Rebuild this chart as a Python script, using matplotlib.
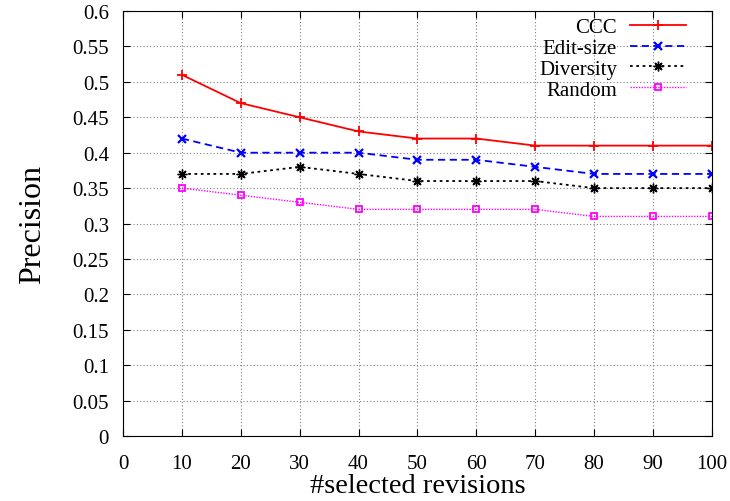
import matplotlib
matplotlib.use("Agg")
import matplotlib.pyplot as plt

plt.rcParams['font.family'] = ['Liberation Serif', 'DejaVu Serif']

# data
x = [10, 20, 30, 40, 50, 60, 70, 80, 90, 100]
ccc = [0.51, 0.47, 0.45, 0.43, 0.42, 0.42, 0.41, 0.41, 0.41, 0.41]
edit_size = [0.42, 0.40, 0.40, 0.40, 0.39, 0.39, 0.38, 0.37, 0.37, 0.37]
diversity = [0.37, 0.37, 0.38, 0.37, 0.36, 0.36, 0.36, 0.35, 0.35, 0.35]
random_sel = [0.35, 0.34, 0.33, 0.32, 0.32, 0.32, 0.32, 0.31, 0.31, 0.31]

fig = plt.figure(figsize=(7.30, 5.02), dpi=100)
ax = fig.add_axes([0.1685, 0.1295, 0.8065, 0.8465])

ax.plot(x, ccc, color='red', linestyle='-', marker='+', markersize=7, markeredgewidth=1.3,
        linewidth=1.3, label='CCC')
ax.plot(x, edit_size, color='blue', linestyle=(0, (4, 2.5)), marker='x', markersize=5.5,
        markeredgewidth=1.6, linewidth=1.3, label='Edit-size')
ax.plot(x, diversity, color='black', linestyle=(0, (1.5, 2)), marker=(8, 2, 0), markersize=7,
        markeredgewidth=1.0, linewidth=1.3, label='Diversity')
ax.plot(x, random_sel, color='magenta', linestyle=(0, (1, 1)), marker='s', markersize=5,
        markerfacecolor='none', markeredgewidth=1.3, linewidth=1.0, label='Random')

ax.set_xlim(0, 100)
ax.set_ylim(0, 0.6)
ax.set_xticks(range(0, 101, 10))
ax.set_yticks([i * 0.05 for i in range(13)])
ax.set_yticklabels(['0', '0.05', '0.1', '0.15', '0.2', '0.25', '0.3', '0.35', '0.4',
                    '0.45', '0.5', '0.55', '0.6'])
ax.tick_params(direction='in', labelsize=15, length=5, top=True, right=True)
ax.tick_params(axis='x', pad=13)
ax.tick_params(axis='y', pad=10)
ax.grid(True, color='gray', linestyle=(0, (1, 2)), linewidth=0.8)
ax.set_axisbelow(True)

ax.set_xlabel('#selected revisions', fontsize=20.5, labelpad=0)
ax.set_ylabel('Precision', fontsize=23, labelpad=18)

leg = ax.legend(loc='upper right', markerfirst=False, frameon=False, fontsize=15,
                handlelength=2.7, handletextpad=0.6, labelspacing=0.06,
                borderpad=0, borderaxespad=0, bbox_to_anchor=(0.956, 0.985))
for t in leg.get_texts():
    t.set_ha('right')

fig.savefig('out.png', dpi=100)
